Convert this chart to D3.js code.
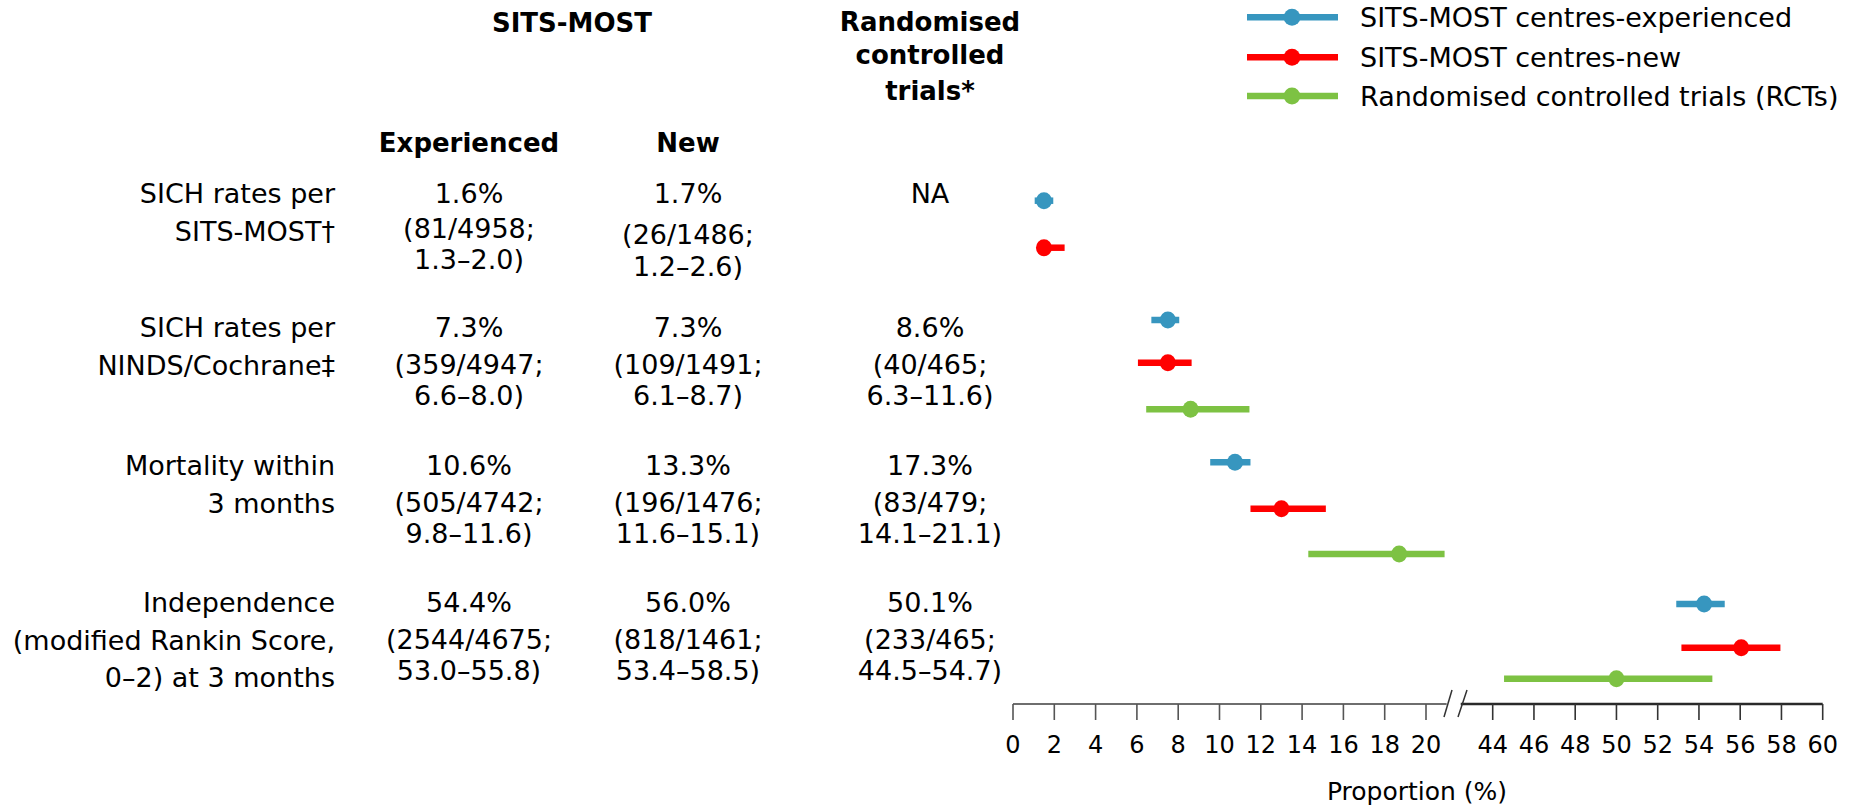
<!DOCTYPE html>
<html><head><meta charset="utf-8">
<script src="https://cdn.jsdelivr.net/npm/d3@7"></script>
<style>
body{margin:0;background:#fff}
svg{display:block}
text{font-family:"DejaVu Sans",Verdana,sans-serif;fill:#000}
</style>
</head><body><svg id="c" width="1856" height="810"></svg>
<script>
// ---------------- data ----------------
const rowLabels = [
  ["SICH rates per", "SITS-MOST†"],
  ["SICH rates per", "NINDS/Cochrane‡"],
  ["Mortality within", "3 months"],
  ["Independence", "(modified Rankin Score,", "0–2) at 3 months"]
];
const experiencedText = [
  ["1.6%", "(81/4958;", "1.3–2.0)"],
  ["7.3%", "(359/4947;", "6.6–8.0)"],
  ["10.6%", "(505/4742;", "9.8–11.6)"],
  ["54.4%", "(2544/4675;", "53.0–55.8)"]
];
const newText = [
  ["1.7%", "(26/1486;", "1.2–2.6)"],
  ["7.3%", "(109/1491;", "6.1–8.7)"],
  ["13.3%", "(196/1476;", "11.6–15.1)"],
  ["56.0%", "(818/1461;", "53.4–58.5)"]
];
const rctText = [
  ["NA"],
  ["8.6%", "(40/465;", "6.3–11.6)"],
  ["17.3%", "(83/479;", "14.1–21.1)"],
  ["50.1%", "(233/465;", "44.5–54.7)"]
];
const columnHeaders = ["Experienced", "New"];
const groupHeader = "SITS-MOST";
const rctHeader = ["Randomised", "controlled", "trials*"];

const seriesNames = ["SITS-MOST centres-experienced", "SITS-MOST centres-new", "Randomised controlled trials (RCTs)"];
const seriesColors = ["#3796bf", "#ff0000", "#7dc243"];

// plotted estimates (read from the chart marks)
const experiencedEst  = [1.5, 7.5, 10.75, 54.25];
const experiencedLow  = [1.05, 6.7, 9.55, 52.9];
const experiencedHigh = [1.95, 8.05, 11.5, 55.25];
const newEst  = [1.5, 7.5, 13.0, 56.05];
const newLow  = [1.2, 6.05, 11.5, 53.15];
const newHigh = [2.5, 8.65, 15.15, 57.95];
const rctEst  = [null, 8.6, 18.7, 50.0];
const rctLow  = [null, 6.45, 14.3, 44.55];
const rctHigh = [null, 11.45, 20.9, 54.65];

const ticksLeft = [0, 2, 4, 6, 8, 10, 12, 14, 16, 18, 20];
const ticksRight = [44, 46, 48, 50, 52, 54, 56, 58, 60];
const axisTitle = "Proportion (%)";

// ---------------- layout ----------------
const svg = d3.select("#c");
svg.append("rect").attr("width", 1856).attr("height", 810).attr("fill", "#fff");

const xLeft = d3.scaleLinear().domain([0, 20]).range([1013, 1426]);
const xRight = d3.scaleLinear().domain([44, 60]).range([1492.7, 1822.7]);
const BREAK = 32;
const x = v => v < BREAK ? xLeft(v) : xRight(v);

const series = [
  {est: experiencedEst, low: experiencedLow, high: experiencedHigh},
  {est: newEst, low: newLow, high: newHigh},
  {est: rctEst, low: rctLow, high: rctHigh}
];
const marks = [];
rowLabels.forEach((_, i) => {
  series.forEach((s, k) => {
    if (s.est[i] != null) marks.push({key: i + "-" + k, k, est: s.est[i], low: s.low[i], high: s.high[i]});
  });
});
const y = d3.scaleOrdinal()
  .domain(marks.map(m => m.key))
  .range([200.7, 247.7, 320, 362.7, 409.3, 462.3, 508.7, 554, 604, 647.7, 678.7]);

// ---------------- table text ----------------
const BODY = 27, HEAD = 26;
const rowBase = [203, 337, 475, 612];
const colCenters = [469, 688, 930];
const valOffsets = [0, 37, 68];
const labOffsets = [0, 38, 75];
const specialOffsets = {"0-0": [0, 35, 66], "0-1": [0, 41, 73]};
const labelRight = 335;

// headers
svg.append("text").attr("x", 572).attr("y", 31.5).attr("text-anchor", "middle")
  .attr("font-size", HEAD).attr("font-weight", "bold").text(groupHeader);
[31, 64, 100].forEach((yy, j) => {
  svg.append("text").attr("x", 930).attr("y", yy).attr("text-anchor", "middle")
    .attr("font-size", HEAD).attr("font-weight", "bold").text(rctHeader[j]);
});
columnHeaders.forEach((h, j) => {
  svg.append("text").attr("x", colCenters[j]).attr("y", 151.7).attr("text-anchor", "middle")
    .attr("font-size", HEAD).attr("font-weight", "bold").text(h);
});

// row labels
rowLabels.forEach((lines, i) => {
  lines.forEach((t, j) => {
    svg.append("text").attr("x", labelRight).attr("y", rowBase[i] + labOffsets[j])
      .attr("text-anchor", "end").attr("font-size", BODY).text(t);
  });
});

// value cells
[experiencedText, newText, rctText].forEach((col, c) => {
  col.forEach((lines, i) => {
    const offs = specialOffsets[i + "-" + c] || valOffsets;
    lines.forEach((t, j) => {
      svg.append("text").attr("x", colCenters[c]).attr("y", rowBase[i] + offs[j])
        .attr("text-anchor", "middle").attr("font-size", BODY).text(t);
    });
  });
});

// ---------------- marks ----------------
const gm = svg.append("g");
gm.selectAll("line.ci").data(marks).join("line").attr("class", "ci")
  .attr("x1", d => x(d.low)).attr("x2", d => x(d.high))
  .attr("y1", d => y(d.key)).attr("y2", d => y(d.key))
  .attr("stroke", d => seriesColors[d.k]).attr("stroke-width", 6.5);
gm.selectAll("ellipse.pt").data(marks).join("ellipse").attr("class", "pt")
  .attr("cx", d => x(d.est)).attr("cy", d => y(d.key))
  .attr("rx", 8).attr("ry", 8.5)
  .attr("fill", d => seriesColors[d.k]);

// ---------------- axis ----------------
const AX_Y = 704;
const ga = svg.append("g");
ga.append("line").attr("x1", xLeft(0)).attr("x2", xLeft(21.0)).attr("y1", AX_Y).attr("y2", AX_Y)
  .attr("stroke", "#6e6e6e").attr("stroke-width", 2);
ga.append("line").attr("x1", xRight(42.45)).attr("x2", xRight(60)).attr("y1", AX_Y).attr("y2", AX_Y)
  .attr("stroke", "#2a2a2a").attr("stroke-width", 2.5);

function drawTicks(scale, vals, color) {
  const g = ga.append("g");
  g.selectAll("line").data(vals).join("line")
    .attr("x1", d => scale(d)).attr("x2", d => scale(d))
    .attr("y1", AX_Y).attr("y2", AX_Y + 16)
    .attr("stroke", color).attr("stroke-width", 1.6);
  g.selectAll("text").data(vals).join("text")
    .attr("x", d => scale(d)).attr("y", 752.5)
    .attr("text-anchor", "middle").attr("font-size", 24).attr("fill", "#111")
    .text(d => d);
}
drawTicks(xLeft, ticksLeft, "#555");
drawTicks(xRight, ticksRight, "#333");

// break marks
[[1444, 1452], [1458, 1467]].forEach(([a, b]) => {
  ga.append("line").attr("x1", a).attr("y1", AX_Y + 13).attr("x2", b).attr("y2", AX_Y - 14)
    .attr("stroke", "#333").attr("stroke-width", 1.5);
});

svg.append("text").attr("x", 1417).attr("y", 800).attr("text-anchor", "middle")
  .attr("font-size", 25).attr("fill", "#111").text(axisTitle);

// ---------------- legend ----------------
const legY = [17.3, 57.3, 96];
const lg = svg.append("g");
seriesNames.forEach((name, k) => {
  lg.append("line").attr("x1", 1247).attr("x2", 1338).attr("y1", legY[k]).attr("y2", legY[k])
    .attr("stroke", seriesColors[k]).attr("stroke-width", 6.5);
  lg.append("ellipse").attr("cx", 1292).attr("cy", legY[k]).attr("rx", 8.3).attr("ry", 8.5)
    .attr("fill", seriesColors[k]);
  lg.append("text").attr("x", 1360).attr("y", legY[k] + 10).attr("font-size", BODY).text(name);
});
</script>
</body></html>
